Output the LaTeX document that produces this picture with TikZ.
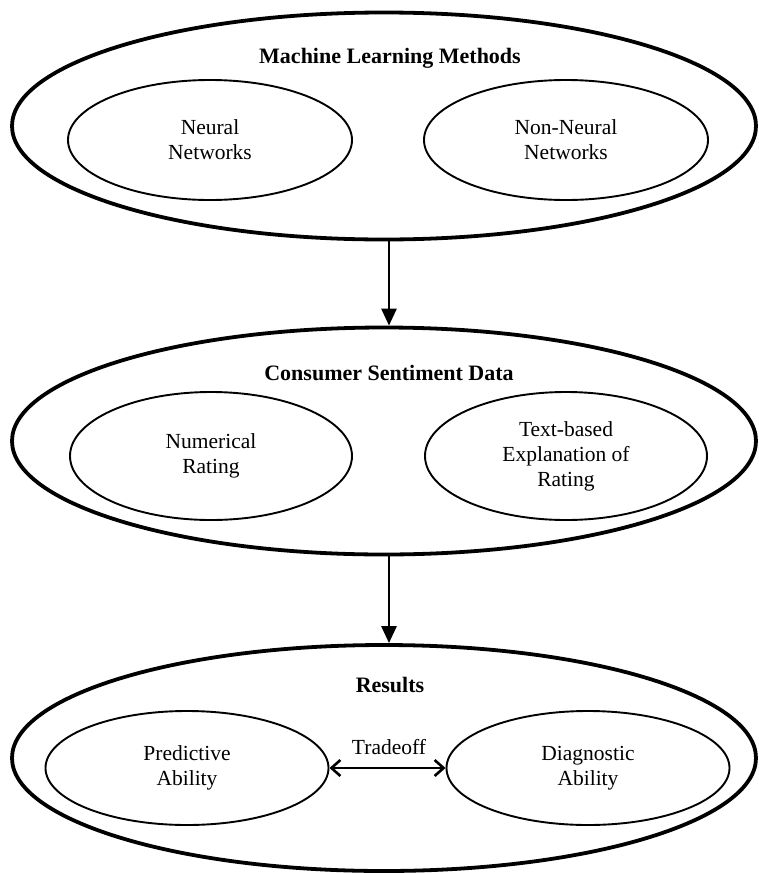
\documentclass[tikz,border=0pt]{standalone}
\usepackage{fontspec}
\setmainfont{Liberation Serif}
\usetikzlibrary{shapes.geometric,arrows.meta}

\tikzset{
  outerell/.style={ellipse, draw, line width=3.8pt, inner sep=0pt,
    minimum width=744pt, minimum height=227pt},
  innerell/.style={ellipse, draw, line width=1.9pt, inner sep=0pt, align=center,
    font=\fontsize{21.5}{25}\selectfont},
  heading/.style={font=\fontsize{22}{25}\selectfont\bfseries},
  flowarrow/.style={line width=2.8pt, -{Triangle[length=17pt,width=15pt]}},
  tradearrow/.style={line width=2.8pt, {Straight Barb[length=9pt,width=16pt,line width=2.6pt]}-{Straight Barb[length=9pt,width=16pt,line width=2.6pt]}},
}

\begin{document}
\begin{tikzpicture}[x=1pt, y=-1pt]
\useasboundingbox[fill=white] (0,0) rectangle (758,873);

% Machine learning block
\node[outerell] (ml) at (384,126) {};
\node[heading] (mlt) at (390,58) {Machine Learning Methods};
\node[innerell, minimum width=284pt, minimum height=120pt] (nn) at (210,140) {Neural\\Networks};
\node[innerell, minimum width=284pt, minimum height=120pt] (nnn) at (566,140) {Non-Neural\\Networks};

% Consumer sentiment block
\node[outerell] (cs) at (384,441) {};
\node[heading] (cst) at (389,373) {Consumer Sentiment Data};
\node[innerell, minimum width=282pt, minimum height=128pt] (num) at (211,456) {Numerical\\Rating};
\node[innerell, minimum width=282pt, minimum height=128pt] (txt) at (566,456) {Text-based\\Explanation of\\Rating};

% Results block
\node[outerell, minimum height=226pt] (res) at (384,758) {};
\node[heading] (rest) at (390,685) {Results};
\node[innerell, minimum width=283pt, minimum height=114pt] (pred) at (187,768) {Predictive\\Ability};
\node[innerell, minimum width=283pt, minimum height=114pt] (diag) at (588,768) {Diagnostic\\Ability};

% Connectors
\draw[flowarrow] ([xshift=5pt]ml.south) -- ([xshift=5pt]cs.north);
\draw[flowarrow] ([xshift=5pt]cs.south) -- ([xshift=5pt]res.north);
\draw[tradearrow] (pred.east) -- (diag.west);
\node[font=\fontsize{21.5}{25}\selectfont] (trade) at (389,747) {Tradeoff};
\end{tikzpicture}
\end{document}
